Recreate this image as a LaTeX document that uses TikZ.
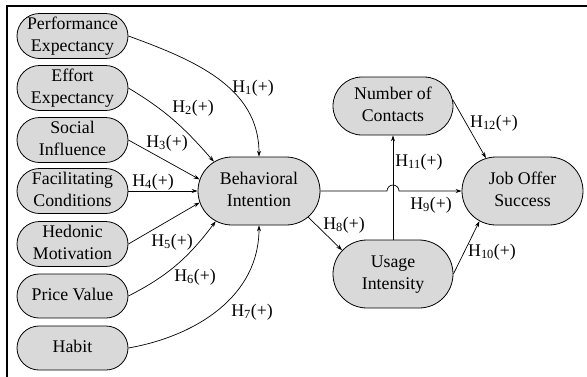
\documentclass[tikz,border=0pt]{standalone}
\usepackage{fontspec}
\setmainfont{Liberation Serif}
\usetikzlibrary{shapes.misc,arrows.meta,calc}
\newcommand\figfont{\fontsize{17.8}{22.5}\selectfont}
\newcommand\nt[1]{\makebox[0pt]{\begin{tabular}{@{}c@{}}#1\end{tabular}}}
\newcommand\hyp[1]{H\textsubscript{#1}(+)}
\begin{document}
\begin{tikzpicture}[x=1pt,y=1pt,
  box/.style={rounded rectangle, draw=black, line width=0.8pt, fill=gray!30,
    inner xsep=0pt, inner ysep=0pt, font=\figfont},
  lbox/.style={box, minimum width=111pt, minimum height=44pt},
  hl/.style={font=\figfont, inner sep=0pt},
  arr/.style={line width=0.7pt, -{Stealth[length=6pt,width=4pt]}}
]
\useasboundingbox (0,0) rectangle (587,-376);
\draw[line width=2pt] (7,-380) -- (7,-5.5) -- (590,-5.5);

\node[lbox] (pe) at (72.5,-36) {\nt{Performance\\Expectancy}};
\node[lbox] (ee) at (72.5,-88) {\nt{Effort\\Expectancy}};
\node[lbox] (si) at (72.5,-140) {\nt{Social\\Influence}};
\node[lbox] (fc) at (72.5,-191) {\nt{Facilitating\\Conditions}};
\node[lbox] (hm) at (72.5,-244) {\nt{Hedonic\\Motivation}};
\node[lbox] (pv) at (72.5,-296) {\nt{Price Value}};
\node[lbox] (hb) at (72.5,-348) {\nt{Habit}};

\node[box, minimum width=122pt, minimum height=68pt] (bi) at (259,-191) {\nt{Behavioral\\Intention}};
\node[box, minimum width=120pt, minimum height=58pt] (nc) at (393,-106) {\nt{Number of\\Contacts}};
\node[box, minimum width=120pt, minimum height=68pt] (ui) at (393,-274) {\nt{Usage\\Intensity}};
\node[box, minimum width=121pt, minimum height=68pt] (jo) at (522.5,-191) {\nt{Job Offer\\Success}};

\draw[arr] (pe.east) to[out=-20,in=90] (bi.north);
\draw[arr] (ee.east) to[out=-31,in=131] (bi.147);
\draw[arr] (si.east) -- (bi.169);
\draw[arr] (fc.east) -- (bi.west);
\draw[arr] (hm.east) -- (bi.191);
\draw[arr] (pv.east) to[out=27,in=-127] (bi.215);
\draw[arr] (hb.east) to[out=10,in=-90] (bi.south);
\draw[arr] (bi.-28) -- (ui.155);
\draw[arr] (ui.north) -- (nc.south);
\draw[arr] (bi.east) -- ($(ui.north |- bi.east)+(-6,0)$) arc (180:0:6) -- (jo.west);
\draw[arr] (ui.east) -- (jo.215);
\draw[arr] (nc.6) -- (jo.138);

\node[hl] (h1) at (253,-88) {\hyp{1}};
\node[hl] (h2) at (193,-108) {\hyp{2}};
\node[hl] (h3) at (167,-143) {\hyp{3}};
\node[hl] (h4) at (153,-182) {\hyp{4}};
\node[hl] (h5) at (172,-242) {\hyp{5}};
\node[hl] (h6) at (195,-277) {\hyp{6}};
\node[hl] (h7) at (252,-312) {\hyp{7}};
\node[hl] (h8) at (344,-225) {\hyp{8}};
\node[hl] (h9) at (431,-205) {\hyp{9}};
\node[hl] (h10) at (492,-252) {\hyp{10}};
\node[hl] (h11) at (419,-162) {\hyp{11}};
\node[hl] (h12) at (494,-123) {\hyp{12}};
\end{tikzpicture}
\end{document}
